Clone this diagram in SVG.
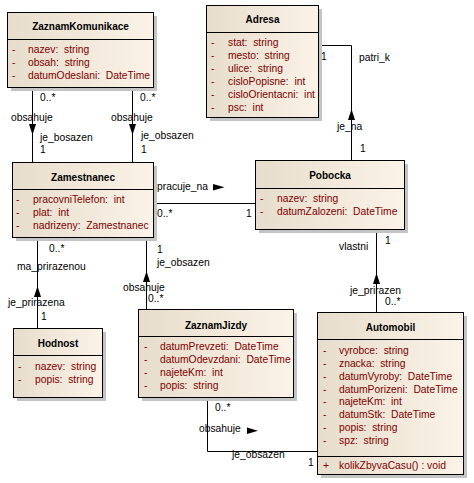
<svg xmlns="http://www.w3.org/2000/svg" width="474" height="483" viewBox="0 0 474 483">
<defs>
<linearGradient id="fill" x1="0" y1="0" x2="1" y2="0">
<stop offset="0" stop-color="#E7DDCC"/>
<stop offset="1" stop-color="#FBF3E7"/>
</linearGradient>
<style>
.box{fill:url(#fill);stroke:#000;stroke-width:1}
.sh{fill:#C4C4C4}
.div{stroke:#000;stroke-width:1}
.t{font-family:"Liberation Sans",Arial,sans-serif;font-size:10px;font-weight:bold;fill:#000;text-anchor:middle}
.a{font-family:"Liberation Sans",Arial,sans-serif;font-size:10.3px;fill:#800000;white-space:pre}
.l{font-family:"Liberation Sans",Arial,sans-serif;font-size:10.3px;fill:#000;white-space:pre}
.c{fill:none;stroke:#000;stroke-width:1}
.ah{fill:#000}
</style>
</defs>
<rect width="474" height="483" fill="#fff"/>

<g id="connectors">
<path class="c" d="M32.5,87 V162"/>
<path class="c" d="M132.5,87 V162"/>
<polygon class="ah" points="29,124 36,124 32.5,135"/>
<polygon class="ah" points="129,124 136,124 132.5,135"/>
<text class="l" x="40" y="101">0..*</text>
<text class="l" x="140" y="101">0..*</text>
<text class="l" x="11" y="121">obsahuje</text>
<text class="l" x="111" y="121">obsahuje</text>
<text class="l" x="40" y="141">je_bosazen</text>
<text class="l" x="141" y="139">je_obsazen</text>
<text class="l" x="40" y="153">1</text>
<text class="l" x="141" y="153">1</text>

<path class="c" d="M153,203.5 H255"/>
<text class="l" x="157" y="190">pracuje_na</text>
<polygon class="ah" points="213,184 213,190.5 224.5,187.2"/>
<text class="l" x="157" y="217">0..*</text>
<text class="l" x="246" y="217">1</text>

<path class="c" d="M37.5,237 V328"/>
<text class="l" x="49" y="252">0..*</text>
<text class="l" x="17" y="270">ma_prirazenou</text>
<polygon class="ah" points="37.5,286 34,297 41,297"/>
<text class="l" x="8" y="306">je_prirazena</text>
<text class="l" x="41" y="320">1</text>

<path class="c" d="M146.5,237 V309"/>
<text class="l" x="157" y="253">1</text>
<text class="l" x="157" y="266">je_obsazen</text>
<polygon class="ah" points="146.5,271 143,282 150,282"/>
<text class="l" x="123" y="291">obsahuje</text>
<text class="l" x="148" y="302">0..*</text>

<path class="c" d="M318,45.5 H351.5 V160"/>
<rect x="320" y="51" width="7" height="11" fill="#fff"/>
<text class="l" x="321" y="60">1</text>
<text class="l" x="359" y="61">patri_k</text>
<polygon class="ah" points="351.5,109 348,120 355,120"/>
<text class="l" x="337" y="130">je_na</text>
<text class="l" x="360" y="152">1</text>

<path class="c" d="M376.5,229 V312"/>
<text class="l" x="385" y="244">1</text>
<text class="l" x="339" y="250">vlastni</text>
<polygon class="ah" points="376.5,273 373,284 380,284"/>
<text class="l" x="350" y="293.5">je_prirazen</text>
<text class="l" x="385" y="304.5">0..*</text>

<path class="c" d="M207.5,397 V451.5 H317"/>
<text class="l" x="215" y="411">0..*</text>
<text class="l" x="199" y="432">obsahuje</text>
<polygon class="ah" points="247,427.5 247,434 258,430.7"/>
<text class="l" x="232" y="458">je_obsazen</text>
<text class="l" x="308" y="466">1</text>
</g>

<g id="ZaznamKomunikace">
<rect class="sh" x="11" y="16" width="146" height="75"/>
<rect class="box" x="7.5" y="12.5" width="146" height="75"/>
<line class="div" x1="7.5" y1="39.5" x2="153.5" y2="39.5"/>
<text class="t" x="80.5" y="30">ZaznamKomunikace</text>
<text class="a" x="12" y="53">-</text><text class="a" x="28" y="53">nazev:  string</text>
<text class="a" x="12" y="66">-</text><text class="a" x="28" y="66">obsah:  string</text>
<text class="a" x="12" y="79">-</text><text class="a" x="28" y="79">datumOdeslani:  DateTime</text>
</g>

<g id="Adresa">
<rect class="sh" x="210" y="9" width="112" height="112"/>
<rect class="box" x="206.5" y="5.5" width="112" height="112"/>
<line class="div" x1="206.5" y1="32.5" x2="318.5" y2="32.5"/>
<text class="t" x="262.5" y="23">Adresa</text>
<text class="a" x="211" y="45.5">-</text><text class="a" x="228" y="45.5">stat:  string</text>
<text class="a" x="211" y="58.5">-</text><text class="a" x="228" y="58.5">mesto:  string</text>
<text class="a" x="211" y="71.5">-</text><text class="a" x="228" y="71.5">ulice:  string</text>
<text class="a" x="211" y="84.5">-</text><text class="a" x="228" y="84.5">cisloPopisne:  int</text>
<text class="a" x="211" y="97.5">-</text><text class="a" x="228" y="97.5">cisloOrientacni:  int</text>
<text class="a" x="211" y="110.5">-</text><text class="a" x="228" y="110.5">psc:  int</text>
</g>

<g id="Zamestnanec">
<rect class="sh" x="16" y="166" width="141" height="75"/>
<rect class="box" x="12.5" y="162.5" width="141" height="75"/>
<line class="div" x1="12.5" y1="189.5" x2="153.5" y2="189.5"/>
<text class="t" x="83" y="181">Zamestnanec</text>
<text class="a" x="16" y="203">-</text><text class="a" x="33" y="203">pracovniTelefon:  int</text>
<text class="a" x="16" y="216">-</text><text class="a" x="33" y="216">plat:  int</text>
<text class="a" x="16" y="229">-</text><text class="a" x="33" y="229">nadrizeny:  Zamestnanec</text>
</g>

<g id="Pobocka">
<rect class="sh" x="259" y="164" width="149" height="69"/>
<rect class="box" x="255.5" y="160.5" width="149" height="69"/>
<line class="div" x1="255.5" y1="188.5" x2="404.5" y2="188.5"/>
<text class="t" x="330" y="179">Pobocka</text>
<text class="a" x="260" y="201.5">-</text><text class="a" x="277" y="201.5">nazev:  string</text>
<text class="a" x="260" y="214.5">-</text><text class="a" x="277" y="214.5">datumZalozeni:  DateTime</text>
</g>

<g id="Hodnost">
<rect class="sh" x="17" y="332" width="89" height="69"/>
<rect class="box" x="13.5" y="328.5" width="89" height="69"/>
<line class="div" x1="13.5" y1="355.5" x2="102.5" y2="355.5"/>
<text class="t" x="58" y="347">Hodnost</text>
<text class="a" x="18" y="370">-</text><text class="a" x="35" y="370">nazev:  string</text>
<text class="a" x="18" y="383">-</text><text class="a" x="35" y="383">popis:  string</text>
</g>

<g id="ZaznamJizdy">
<rect class="sh" x="142" y="313" width="155" height="88"/>
<rect class="box" x="138.5" y="309.5" width="155" height="88"/>
<line class="div" x1="138.5" y1="336.5" x2="293.5" y2="336.5"/>
<text class="t" x="216" y="329">ZaznamJizdy</text>
<text class="a" x="144" y="350">-</text><text class="a" x="160" y="350">datumPrevzeti:  DateTime</text>
<text class="a" x="144" y="363">-</text><text class="a" x="160" y="363">datumOdevzdani:  DateTime</text>
<text class="a" x="144" y="376">-</text><text class="a" x="160" y="376">najeteKm:  int</text>
<text class="a" x="144" y="389">-</text><text class="a" x="160" y="389">popis:  string</text>
</g>

<g id="Automobil">
<rect class="sh" x="321" y="316" width="146" height="162"/>
<rect class="box" x="317.5" y="312.5" width="146" height="162"/>
<line class="div" x1="317.5" y1="339.5" x2="463.5" y2="339.5"/>
<line class="div" x1="317.5" y1="456.5" x2="463.5" y2="456.5"/>
<text class="t" x="390.5" y="331">Automobil</text>
<text class="a" x="323" y="353.5">-</text><text class="a" x="339" y="353.5">vyrobce:  string</text>
<text class="a" x="323" y="366.5">-</text><text class="a" x="339" y="366.5">znacka:  string</text>
<text class="a" x="323" y="379.5">-</text><text class="a" x="339" y="379.5">datumVyroby:  DateTime</text>
<text class="a" x="323" y="392.5">-</text><text class="a" x="339" y="392.5">datumPorizeni:  DateTime</text>
<text class="a" x="323" y="405">-</text><text class="a" x="339" y="405">najeteKm:  int</text>
<text class="a" x="323" y="418">-</text><text class="a" x="339" y="418">datumStk:  DateTime</text>
<text class="a" x="323" y="431">-</text><text class="a" x="339" y="431">popis:  string</text>
<text class="a" x="323" y="443.5">-</text><text class="a" x="339" y="443.5">spz:  string</text>
<text class="a" x="323" y="469">+</text><text class="a" x="339" y="469">kolikZbyvaCasu() : void</text>
</g>
</svg>
